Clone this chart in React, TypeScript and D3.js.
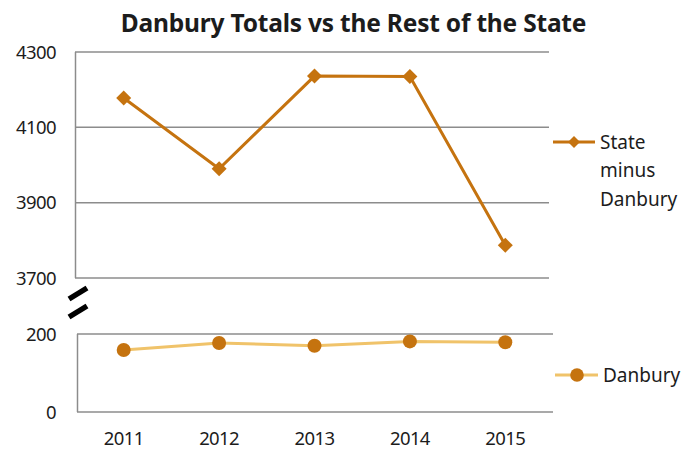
import React from "react";
import * as d3 from "d3";

const years = ["2011", "2012", "2013", "2014", "2015"];
const stateMinusDanbury = [4178, 3990, 4236, 4235, 3787];
const danbury = [159, 177, 170, 181, 179];
const topTicks = [3700, 3900, 4100, 4300];
const bottomTicks = [0, 200];
const title = "Danbury Totals vs the Rest of the State";

const W = 686;
const H = 449;
const FONT = "'Noto Sans', sans-serif";
const GRID = "#8c8c8c";
const DARK = "#C5730F";
const LIGHT = "#F0C36A";
const TEXT = "#1c1c1c";

export default function App() {
  const x = d3.scaleBand<string>().domain(years).range([76, 553]).padding(0);
  const cx = (d: string) => (x(d) as number) + x.bandwidth() / 2;
  const yTop = d3.scaleLinear().domain([3700, 4300]).range([278, 52]);
  const yBot = d3.scaleLinear().domain([0, 200]).range([412, 334]);

  const lineTop = d3
    .line<number>()
    .x((_, i) => cx(years[i]))
    .y((v) => yTop(v));
  const lineBot = d3
    .line<number>()
    .x((_, i) => cx(years[i]))
    .y((v) => yBot(v));

  const diamond = (px: number, py: number, r: number) =>
    `M${px},${py - r}L${px + r},${py}L${px},${py + r}L${px - r},${py}Z`;

  return (
    <svg
      width={W}
      height={H}
      style={{ position: "absolute", left: 0, top: 0, background: "#fff" }}
    >
      <text
        x={353.5}
        y={32}
        textAnchor="middle"
        fontFamily={FONT}
        fontWeight={700}
        fontSize={24.5}
        letterSpacing={-0.2}
        fill={TEXT}
      >
        {title}
      </text>

      {/* upper panel gridlines */}
      {topTicks.map((t) => (
        <line
          key={t}
          x1={75}
          x2={549}
          y1={yTop(t)}
          y2={yTop(t)}
          stroke={GRID}
          strokeWidth={1.5}
        />
      ))}
      <line x1={75.5} x2={75.5} y1={yTop(4300)} y2={yTop(3700)} stroke={GRID} strokeWidth={1.5} />
      {topTicks.map((t) => (
        <text
          key={t}
          x={56}
          y={yTop(t)}
          dy="0.36em"
          textAnchor="end"
          fontFamily={FONT}
          fontSize={18.5}
          letterSpacing={-0.6}
          fill={TEXT}
        >
          {t}
        </text>
      ))}

      {/* lower panel */}
      {bottomTicks.map((t) => (
        <line
          key={t}
          x1={77}
          x2={553}
          y1={yBot(t)}
          y2={yBot(t)}
          stroke={GRID}
          strokeWidth={1.5}
        />
      ))}
      <line x1={77.5} x2={77.5} y1={yBot(200)} y2={yBot(0)} stroke={GRID} strokeWidth={1.5} />
      {bottomTicks.map((t) => (
        <text
          key={t}
          x={56}
          y={yBot(t)}
          dy="0.36em"
          textAnchor="end"
          fontFamily={FONT}
          fontSize={18.5}
          letterSpacing={-0.6}
          fill={TEXT}
        >
          {t}
        </text>
      ))}

      {/* axis break marks */}
      <line x1={69} y1={299} x2={87} y2={288} stroke="#000" strokeWidth={5.5} />
      <line x1={69} y1={317} x2={87} y2={306} stroke="#000" strokeWidth={5.5} />

      {/* x labels */}
      {years.map((yr) => (
        <text
          key={yr}
          x={cx(yr)}
          y={438}
          dy="0.36em"
          textAnchor="middle"
          fontFamily={FONT}
          fontSize={18.5}
          letterSpacing={-0.6}
          fill={TEXT}
        >
          {yr}
        </text>
      ))}

      {/* series: State minus Danbury */}
      <path d={lineTop(stateMinusDanbury) || ""} fill="none" stroke={DARK} strokeWidth={3} />
      {stateMinusDanbury.map((v, i) => (
        <path key={i} d={diamond(cx(years[i]), yTop(v), 7.5)} fill={DARK} />
      ))}

      {/* series: Danbury */}
      <path d={lineBot(danbury) || ""} fill="none" stroke={LIGHT} strokeWidth={3} />
      {danbury.map((v, i) => (
        <circle key={i} cx={cx(years[i])} cy={yBot(v)} r={7} fill={DARK} />
      ))}

      {/* legend */}
      <line x1={553} x2={595} y1={142} y2={142} stroke={DARK} strokeWidth={3} />
      <path d={diamond(574, 142, 6)} fill={DARK} />
      {["State", "minus", "Danbury"].map((s, i) => (
        <text
          key={s}
          x={600}
          y={142 + i * 28.5}
          dy="0.36em"
          fontFamily={FONT}
          fontSize={19}
          fill={TEXT}
        >
          {s}
        </text>
      ))}
      <line x1={555} x2={598} y1={375} y2={375} stroke={LIGHT} strokeWidth={3} />
      <circle cx={577} cy={375} r={6.8} fill={DARK} />
      <text
        x={603}
        y={375}
        dy="0.36em"
        fontFamily={FONT}
        fontSize={19}
        fill={TEXT}
      >
        Danbury
      </text>
    </svg>
  );
}
